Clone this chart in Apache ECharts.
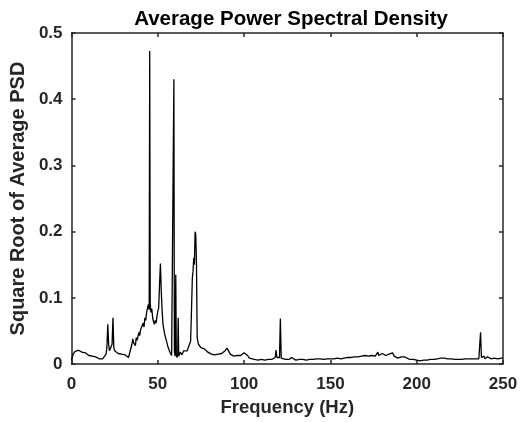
<!DOCTYPE html>
<html>
<head>
<meta charset="utf-8">
<script src="https://cdn.jsdelivr.net/npm/echarts@6/dist/echarts.min.js"></script>
<style>html,body{margin:0;padding:0;background:#fff}#c{width:526px;height:422px}</style>
</head>
<body>
<div id="c"></div>
<script>
const titleText = "Average Power Spectral Density";
const xName = "Frequency (Hz)";
const yName = "Square Root of Average PSD";
const xTicks = [0, 50, 100, 150, 200, 250];
const yTicks = [0, 0.1, 0.2, 0.3, 0.4, 0.5];

const freq = [0,0.5,1,1.5,2,3,4,5,6,7,8,9,10,11,12,13,14,15,16,17,18,19,20,20.5,21,21.5,22,23,23.5,24,24.5,25,26,27,28,29,30,31,32,33,34,35,35.5,36,37,37.5,38,39,39.5,40,41,41.5,42,42.5,43,43.5,44,44.5,45,45.3,45.6,46,46.5,47,47.5,48,48.5,49,49.5,50,50.5,51,51.5,52,52.5,53,54,55,56,57,58,58.5,59,59.3,59.6,60,60.4,60.7,61,61.5,61.8,62.1,63,64,65,66,67,68,69,69.5,70,70.4,70.8,71.2,71.6,72,72.4,72.8,73.5,74,75,76,77,78,79,80,81,82,83,84,85,86,87,88,89,90,91,92,93,94,95,96,97,98,99,100,101,102,103,104,106,108,110,112,114,116,117,118,118.5,119,120,120.5,121,121.5,122,124,126,127.5,128,130,132,134,136,138,140,142,144,146,148,150,152,154,156,158,160,162,164,166,168,170,172,174,176,177,177.5,178,179,180,180.5,181,182,183,184,185,186,187,188,189,190,191,192,193,194,196,198,200,202,204,206,208,210,212,214,216,218,220,222,224,226,228,230,232,234,236,236.5,237,237.5,238,239,239.5,241,241.5,243,245,247,249,250];
const psd = [0.006,0.011,0.015,0.018,0.019,0.020,0.021,0.020,0.018,0.017,0.017,0.015,0.013,0.013,0.012,0.010,0.011,0.009,0.008,0.007,0.008,0.010,0.015,0.025,0.060,0.030,0.020,0.018,0.030,0.070,0.025,0.020,0.022,0.016,0.018,0.015,0.017,0.014,0.012,0.010,0.012,0.030,0.038,0.032,0.028,0.040,0.036,0.048,0.043,0.052,0.050,0.062,0.056,0.070,0.066,0.078,0.076,0.090,0.082,0.473,0.090,0.078,0.084,0.070,0.064,0.060,0.066,0.062,0.072,0.080,0.085,0.120,0.152,0.110,0.080,0.060,0.045,0.035,0.025,0.018,0.013,0.012,0.015,0.430,0.020,0.012,0.135,0.015,0.010,0.014,0.070,0.012,0.018,0.014,0.020,0.017,0.020,0.022,0.035,0.080,0.130,0.140,0.160,0.150,0.200,0.195,0.150,0.040,0.030,0.028,0.025,0.026,0.023,0.020,0.018,0.017,0.015,0.016,0.014,0.015,0.015,0.014,0.016,0.017,0.020,0.024,0.020,0.015,0.013,0.012,0.011,0.013,0.012,0.013,0.014,0.017,0.019,0.013,0.009,0.007,0.007,0.006,0.007,0.006,0.007,0.007,0.008,0.010,0.021,0.010,0.008,0.010,0.069,0.009,0.007,0.007,0.007,0.010,0.007,0.006,0.007,0.007,0.006,0.007,0.007,0.008,0.008,0.007,0.008,0.008,0.008,0.009,0.008,0.009,0.010,0.010,0.011,0.011,0.012,0.013,0.012,0.013,0.012,0.014,0.018,0.013,0.014,0.016,0.013,0.015,0.013,0.014,0.015,0.016,0.017,0.012,0.010,0.009,0.009,0.011,0.012,0.011,0.009,0.007,0.007,0.006,0.005,0.006,0.006,0.007,0.007,0.008,0.009,0.009,0.008,0.008,0.007,0.007,0.007,0.008,0.008,0.008,0.008,0.008,0.010,0.048,0.010,0.008,0.012,0.008,0.011,0.008,0.008,0.009,0.008,0.009,0.009];

const data = freq.map((f, i) => [f, psd[i]]);
const FONT = "'Liberation Sans', Arial, Helvetica, sans-serif";
const AX = '#262626';

const chart = echarts.init(document.getElementById('c'), null, {renderer: 'canvas'});
const baseX = {
  type: 'value', min: 0, max: 250, interval: 50,
  axisLine: {show: true, onZero: false, lineStyle: {color: AX, width: 1.5}},
  axisTick: {show: true, inside: true, length: 4, lineStyle: {color: AX, width: 1.5}},
  splitLine: {show: false}
};
const baseY = {
  type: 'value', min: 0, max: 0.5, interval: 0.1,
  axisLine: {show: true, onZero: false, lineStyle: {color: AX, width: 1.5}},
  axisTick: {show: true, inside: true, length: 4, lineStyle: {color: AX, width: 1.5}},
  splitLine: {show: false}
};
chart.setOption({
  animation: false,
  backgroundColor: '#fff',
  title: {
    text: titleText, left: 286, top: 4, textAlign: 'center',
    textStyle: {fontFamily: FONT, fontSize: 20.5, fontWeight: 'bold', color: '#000'}
  },
  grid: {left: 69, right: 23, top: 33, bottom: 56, containLabel: false},
  xAxis: [
    Object.assign({}, baseX, {
      position: 'bottom',
      name: xName, nameLocation: 'middle', nameGap: 33,
      nameTextStyle: {fontFamily: FONT, fontSize: 18.5, fontWeight: 'bold', color: AX},
      axisLabel: {fontFamily: FONT, fontSize: 17, fontWeight: 'bold', color: AX, margin: 12,
        formatter: v => xTicks.includes(v) ? String(v) : ''}
    }),
    Object.assign({}, baseX, {position: 'top', axisLabel: {show: false}})
  ],
  yAxis: [
    Object.assign({}, baseY, {
      position: 'left',
      name: yName, nameLocation: 'middle', nameGap: 39,
      nameTextStyle: {fontFamily: FONT, fontSize: 20, fontWeight: 'bold', color: AX},
      axisLabel: {fontFamily: FONT, fontSize: 17, fontWeight: 'bold', color: AX, margin: 9,
        formatter: v => { const t = yTicks.find(y => Math.abs(y - v) < 1e-9); return t === undefined ? '' : (t === 0 ? '0' : String(t)); }}
    }),
    Object.assign({}, baseY, {position: 'right', axisLabel: {show: false}})
  ],
  series: [{
    type: 'line', data: data, xAxisIndex: 0, yAxisIndex: 0,
    showSymbol: false, symbol: 'none',
    lineStyle: {color: '#000', width: 1.3},
    z: 1
  }]
});
</script>
</body>
</html>
